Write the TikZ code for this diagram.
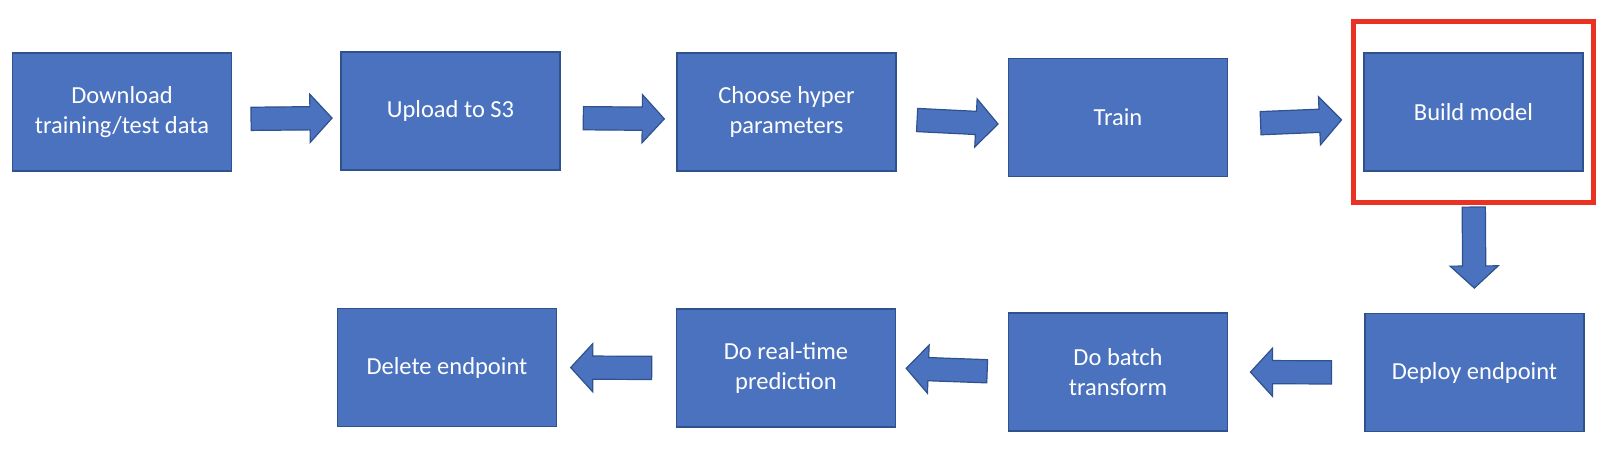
\documentclass[tikz,border=0pt]{standalone}
\usepackage{fontspec}
\setmainfont{Carlito}
\usetikzlibrary{shapes.arrows,fit}
\definecolor{boxblue}{RGB}{74,114,190}
\definecolor{boxline}{RGB}{47,82,143}
\definecolor{hired}{RGB}{234,50,36}
\begin{document}
\begin{tikzpicture}[x=1pt,y=-1pt,
  stage/.style={draw=boxline,fill=boxblue,line width=1.5pt,minimum width=219pt,minimum height=118pt,
    inner sep=0pt,text=white,align=center,font=\fontsize{24.5}{30}\selectfont},
  barrow/.style={single arrow,draw=boxline,fill=boxblue,line width=1.2pt,minimum height=81pt,
    inner xsep=0pt,inner ysep=11pt,single arrow head extend=12.5pt,single arrow tip angle=95,
    sloped,allow upside down,midway},
  hilite/.style={draw=hired,line width=5pt,inner xsep=10pt,inner ysep=30.5pt}]
\useasboundingbox (0,0) rectangle (1618,458);
\node[stage] (dl) at (122,112) {Download\\training/test data};
\node[stage] (up) at (450.5,111) {Upload to S3};
\node[stage] (ch) at (786.5,112) {Choose hyper\\parameters};
\node[stage] (tr) at (1118,117.5) {Train};
\node[stage] (bm) at (1473.5,112) {Build model};
\node[stage] (de) at (1474.5,372.5) {Deploy endpoint};
\node[stage] (bt) at (1118,372) {Do batch\\transform};
\node[stage] (rt) at (786,368) {Do real-time\\prediction};
\node[stage] (del) at (447,367.5) {Delete endpoint};
\foreach \a/\b in {dl/up,up/ch,ch/tr,tr/bm}
  \path ([yshift=-7pt]\a.east) -- node[barrow]{} ([yshift=-7pt]\b.west);
\path (bm.south) -- node[barrow]{} (de.north);
\foreach \a/\b in {de/bt,bt/rt,rt/del}
  \path (\a.west) -- node[barrow]{} (\b.east);
\node[hilite,fit=(bm)] (hl) {};
\end{tikzpicture}
\end{document}
